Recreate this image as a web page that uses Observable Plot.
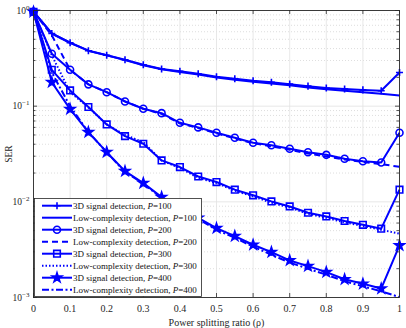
<!DOCTYPE html>
<html>
<head>
<meta charset="utf-8">
<script src="https://cdn.jsdelivr.net/npm/d3@7"></script>
<script src="https://cdn.jsdelivr.net/npm/@observablehq/plot@0.6"></script>
<style>
  html, body { margin: 0; padding: 0; background: white; }
  #wrap { position: relative; width: 406px; height: 328px; }
  #legend { position: absolute; left: 0; top: 0; }
</style>
</head>
<body>
<div id="wrap"></div>
<script>
// ---- data ----
const rho = [0, 0.05, 0.1, 0.15, 0.2, 0.25, 0.3, 0.35, 0.4, 0.45, 0.5, 0.55, 0.6, 0.65, 0.7, 0.75, 0.8, 0.85, 0.9, 0.95, 1];

const ser3D_P100 = [0.97, 0.575, 0.46, 0.38, 0.34, 0.305, 0.271, 0.245, 0.232, 0.218, 0.203, 0.193, 0.184, 0.178, 0.17, 0.162, 0.155, 0.151, 0.148, 0.145, 0.225];
const serLC_P100 = [0.97, 0.575, 0.46, 0.38, 0.34, 0.303, 0.268, 0.243, 0.228, 0.214, 0.199, 0.189, 0.18, 0.173, 0.165, 0.157, 0.15, 0.145, 0.14, 0.135, 0.129];

const ser3D_P200 = [0.97, 0.353, 0.24, 0.169, 0.14, 0.112, 0.094, 0.0845, 0.067, 0.06, 0.0527, 0.0468, 0.0415, 0.039, 0.0359, 0.033, 0.031, 0.0282, 0.0266, 0.0258, 0.0527];
const serLC_P200 = [0.97, 0.55, 0.24, 0.169, 0.14, 0.112, 0.094, 0.083, 0.066, 0.059, 0.052, 0.046, 0.041, 0.038, 0.035, 0.032, 0.0298, 0.0277, 0.0262, 0.0248, 0.0232];

const ser3D_P300 = [0.97, 0.24, 0.146, 0.098, 0.0644, 0.0486, 0.0405, 0.0271, 0.0231, 0.0184, 0.0161, 0.0134, 0.0117, 0.0101, 0.00895, 0.00769, 0.00704, 0.0063, 0.00575, 0.00524, 0.0134];
const serLC_P300 = [0.97, 0.34, 0.14, 0.097, 0.0644, 0.05, 0.042, 0.027, 0.0226, 0.0178, 0.0157, 0.0131, 0.0114, 0.0098, 0.0087, 0.0075, 0.0068, 0.0061, 0.0056, 0.0051, 0.00464];

const ser3D_P400 = [0.97, 0.178, 0.093, 0.0535, 0.0331, 0.0209, 0.0157, 0.0112, 0.0087, 0.0068, 0.0053, 0.00438, 0.00356, 0.00298, 0.00244, 0.00213, 0.00184, 0.00155, 0.00139, 0.00124, 0.0035];
const serLC_P400 = [0.97, 0.225, 0.1, 0.0535, 0.033, 0.0205, 0.0155, 0.011, 0.0084, 0.0066, 0.0051, 0.0042, 0.0034, 0.0028, 0.00232, 0.002, 0.00173, 0.00148, 0.00131, 0.00116, 0.00101];

const xTicks = [0, 0.1, 0.2, 0.3, 0.4, 0.5, 0.6, 0.7, 0.8, 0.9, 1];
const xTickLabels = ["0", "0.1", "0.2", "0.3", "0.4", "0.5", "0.6", "0.7", "0.8", "0.9", "1"];
const yTicks = [1e-3, 1e-2, 1e-1, 1];
const yTickExponents = ["-3", "-2", "-1", "0"];
const yMinor = [];
[1e-3, 1e-2, 1e-1].forEach(d => { for (let k = 2; k <= 9; k++) yMinor.push(d * k); });

const xLabel = "Power splitting ratio (\u03c1)";
const yLabel = "SER";

const legendLabels = [
  ["3D signal detection, ", "=100"],
  ["Low-complexity detection, ", "=100"],
  ["3D signal detection, ", "=200"],
  ["Low-complexity detection, ", "=200"],
  ["3D signal detection, ", "=300"],
  ["Low-complexity detection, ", "=300"],
  ["3D signal detection, ", "=400"],
  ["Low-complexity detection, ", "=400"]
];

// ---- build tables ----
const toRows = arr => rho.map((r, i) => ({rho: r, ser: arr[i]}));
const BLUE = "#0000ff";
const W = 406, H = 328;
const mL = 33, mR = 7, mT = 10, mB = 31;
const iw = W - mL - mR, ih = H - mT - mB;

const series = [
  {rows: toRows(ser3D_P100), dash: null, symbol: "plus", r: 2.4, fill: "none"},
  {rows: toRows(serLC_P100), dash: null},
  {rows: toRows(ser3D_P200), dash: null, symbol: "circle", r: 3.5, fill: "none"},
  {rows: toRows(serLC_P200), dash: "6,4"},
  {rows: toRows(ser3D_P300), dash: null, symbol: "square", r: 3.7, fill: "none"},
  {rows: toRows(serLC_P300), dash: "1.5,2"},
  {rows: toRows(ser3D_P400), dash: null, symbol: "star", r: 3.0, fill: BLUE},
  {rows: toRows(serLC_P400), dash: "7,2.5,2,2.5"}
];

const marks = [
  Plot.ruleY(yMinor, {y: d => d, stroke: "#d6d6d6", strokeDasharray: "1,2", strokeWidth: 0.8}),
  Plot.ruleY(yTicks.slice(1, -1), {y: d => d, stroke: "#e2e2e2", strokeWidth: 0.8}),
  Plot.ruleX(xTicks.slice(1, -1), {x: d => d, stroke: "#e2e2e2", strokeWidth: 0.8})
];
// low complexity lines first, then 3D lines
[1, 3, 5, 7, 0, 2, 4, 6].forEach(i => {
  const s = series[i];
  marks.push(Plot.line(s.rows, {x: "rho", y: "ser", stroke: BLUE, strokeWidth: 2,
    strokeDasharray: s.dash || undefined, strokeLinejoin: "round", strokeLinecap: "butt"}));
});
[0, 2, 4, 6].forEach(i => {
  const s = series[i];
  marks.push(Plot.dot(s.rows, {x: "rho", y: "ser", symbol: s.symbol, r: s.r,
    stroke: BLUE, strokeWidth: 1.6, fill: s.fill}));
});
// inward ticks on all four sides
const tc = "#262626";
marks.push(
  Plot.tickX(xTicks, {x: d => d, stroke: tc, strokeWidth: 0.8, insetTop: ih - 4}),
  Plot.tickX(xTicks, {x: d => d, stroke: tc, strokeWidth: 0.8, insetBottom: ih - 4}),
  Plot.tickY(yTicks, {y: d => d, stroke: tc, strokeWidth: 0.8, insetRight: iw - 4}),
  Plot.tickY(yTicks, {y: d => d, stroke: tc, strokeWidth: 0.8, insetLeft: iw - 4}),
  Plot.tickY(yMinor, {y: d => d, stroke: tc, strokeWidth: 0.8, insetRight: iw - 2.5}),
  Plot.tickY(yMinor, {y: d => d, stroke: tc, strokeWidth: 0.8, insetLeft: iw - 2.5}),
  Plot.frame({stroke: tc, strokeWidth: 0.9}),
  Plot.axisX({ticks: xTicks, tickSize: 0, tickPadding: 7,
    tickFormat: d => xTickLabels[xTicks.indexOf(d)],
    label: xLabel, labelAnchor: "center", labelArrow: "none", labelOffset: 28, fontSize: 10}),
  Plot.axisY({ticks: yTicks, tickSize: 0, tickPadding: 4,
    tickFormat: d => "10^" + yTickExponents[yTicks.indexOf(d)],
    label: yLabel, labelAnchor: "center", labelArrow: "none", labelOffset: 28})
);

const chart = Plot.plot({
  width: W, height: H,
  marginLeft: mL, marginRight: mR, marginTop: mT, marginBottom: mB,
  x: {domain: [0, 1]},
  y: {type: "log", domain: [1e-3, 1]},
  style: {fontFamily: "'Liberation Serif', 'Times New Roman', serif", fontSize: "9.5px", color: "#262626", background: "white"},
  marks
});
document.getElementById("wrap").appendChild(chart);

// superscript exponents on y tick labels
d3.select(chart).selectAll('g[aria-label="y-axis tick label"] text').each(function() {
  const t = d3.select(this);
  const txt = t.text();
  if (!txt.startsWith("10^")) return;
  const e = txt.slice(3).replace("-", "\u2212");
  t.text("");
  t.append("tspan").text("10");
  t.append("tspan").attr("dy", "-4").attr("font-size", "7px").text(e);
});

// ---- legend overlay ----
const lg = d3.select("#wrap").append("svg").attr("id", "legend")
  .attr("width", W).attr("height", H)
  .style("font-family", "'Liberation Serif', 'Times New Roman', serif")
  .style("font-size", "9px");
const lx0 = 34.5, ly0 = 198.5, lx1 = 201.5, ly1 = 296.5;
lg.append("rect").attr("x", lx0).attr("y", ly0).attr("width", lx1 - lx0).attr("height", ly1 - ly0)
  .attr("fill", "white").attr("stroke", "#262626").attr("stroke-width", 0.8);
const symMap = {plus: d3.symbolPlus, circle: d3.symbolCircle, square: d3.symbolSquare, star: d3.symbolStar};
series.forEach((s, i) => {
  const cy = 205.7 + i * 12;
  lg.append("line").attr("x1", 42).attr("x2", 72).attr("y1", cy).attr("y2", cy)
    .attr("stroke", BLUE).attr("stroke-width", 2)
    .attr("stroke-dasharray", s.dash || null);
  if (s.symbol) {
    lg.append("path").attr("transform", `translate(57,${cy})`)
      .attr("d", d3.symbol(symMap[s.symbol], Math.PI * s.r * s.r)())
      .attr("fill", s.fill).attr("stroke", BLUE).attr("stroke-width", 1.6);
  }
  const t = lg.append("text").attr("x", 73).attr("y", cy).attr("dy", "0.35em").attr("fill", "#111");
  t.append("tspan").text(legendLabels[i][0]);
  t.append("tspan").attr("font-style", "italic").text("P");
  t.append("tspan").text(legendLabels[i][1]);
});
</script>
</body>
</html>
